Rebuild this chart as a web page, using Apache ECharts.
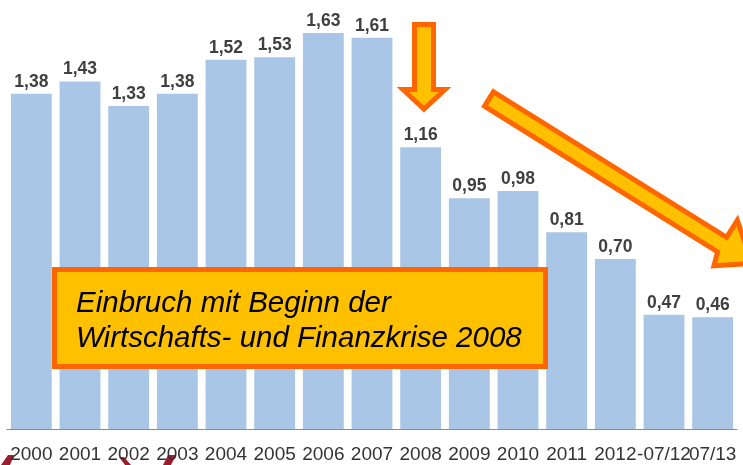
<!DOCTYPE html>
<html>
<head>
<meta charset="utf-8">
<script src="https://cdn.jsdelivr.net/npm/echarts@6/dist/echarts.min.js"></script>
<style>
  html, body { margin: 0; padding: 0; background: #fff; }
  #main { width: 743px; height: 465px; }
</style>
</head>
<body>
<div id="main"></div>
<script>
  const years = ['2000','2001','2002','2003','2004','2005','2006','2007','2008','2009','2010','2011','2012','-07/12','07/13'];
  const values = [1.38, 1.43, 1.33, 1.38, 1.52, 1.53, 1.63, 1.61, 1.16, 0.95, 0.98, 0.81, 0.70, 0.47, 0.46];
  const boxLines = ['Einbruch mit Beginn der', 'Wirtschafts- und Finanzkrise 2008'];

  const orangeFill = '#FFC000';
  const orangeLine = '#FF6600';
  const font = '"Liberation Sans", Arial, sans-serif';

  const chart = echarts.init(document.getElementById('main'));

  const option = {
    animation: false,
    grid: { left: 7, right: 6, top: 33, bottom: 36 },
    xAxis: {
      type: 'category',
      data: years,
      axisTick: { show: false },
      axisLine: { lineStyle: { color: '#8c8c8c', width: 1 } },
      axisLabel: {
        interval: 0,
        margin: 16,
        fontSize: 19,
        color: '#333333',
        fontFamily: font
      }
    },
    yAxis: {
      type: 'value',
      min: 0,
      max: 1.63,
      show: false,
      splitLine: { show: false }
    },
    series: [{
      type: 'bar',
      data: values,
      barCategoryGap: '16%',
      itemStyle: { color: '#A9C6E6' },
      label: {
        show: true,
        position: 'top',
        distance: 3,
        fontSize: 17.5,
        fontWeight: 'bold',
        color: '#404040',
        fontFamily: font,
        formatter: p => p.value.toFixed(2).replace('.', ',')
      }
    }],
    graphic: [
      // dark red fragments at the bottom edge
      { type: 'polygon', z: -1, shape: { points: [[8,455],[14,455],[10,465],[1,465]] }, style: { fill: '#9B1C2E' } },
      { type: 'polygon', z: -1, shape: { points: [[119,457],[124,457],[131,465],[125,465]] }, style: { fill: '#9B1C2E' } },
      { type: 'polygon', z: -1, shape: { points: [[168,455],[176,455],[171,465],[163,465]] }, style: { fill: '#9B1C2E' } },
      // down arrow
      {
        type: 'polygon', z: 100,
        shape: { points: [[414.5,24.5],[433.5,24.5],[433.5,89.5],[445,89.5],[424,109],[403,89.5],[414.5,89.5]] },
        style: { fill: orangeFill, stroke: orangeLine, lineWidth: 5, lineJoin: 'miter' }
      },
      // diagonal arrow
      {
        type: 'polygon', z: 100,
        shape: { points: [[493.5,91.8],[726.6,237.4],[737.3,220.3],[752,263.3],[713.9,265.8],[717.6,251.8],[484.5,106.2]] },
        style: { fill: orangeFill, stroke: orangeLine, lineWidth: 5, lineJoin: 'miter' }
      },
      // annotation box
      {
        type: 'rect', z: 100,
        shape: { x: 54.5, y: 269.5, width: 491, height: 97 },
        style: { fill: orangeFill, stroke: orangeLine, lineWidth: 5 }
      },
      {
        type: 'text', z: 101, x: 76, y: 304,
        style: { text: boxLines[0], fill: '#000', font: 'italic 29.5px ' + font, verticalAlign: 'middle' }
      },
      {
        type: 'text', z: 101, x: 76, y: 339,
        style: { text: boxLines[1], fill: '#000', font: 'italic 29.5px ' + font, verticalAlign: 'middle' }
      }
    ]
  };

  chart.setOption(option);
</script>
</body>
</html>
